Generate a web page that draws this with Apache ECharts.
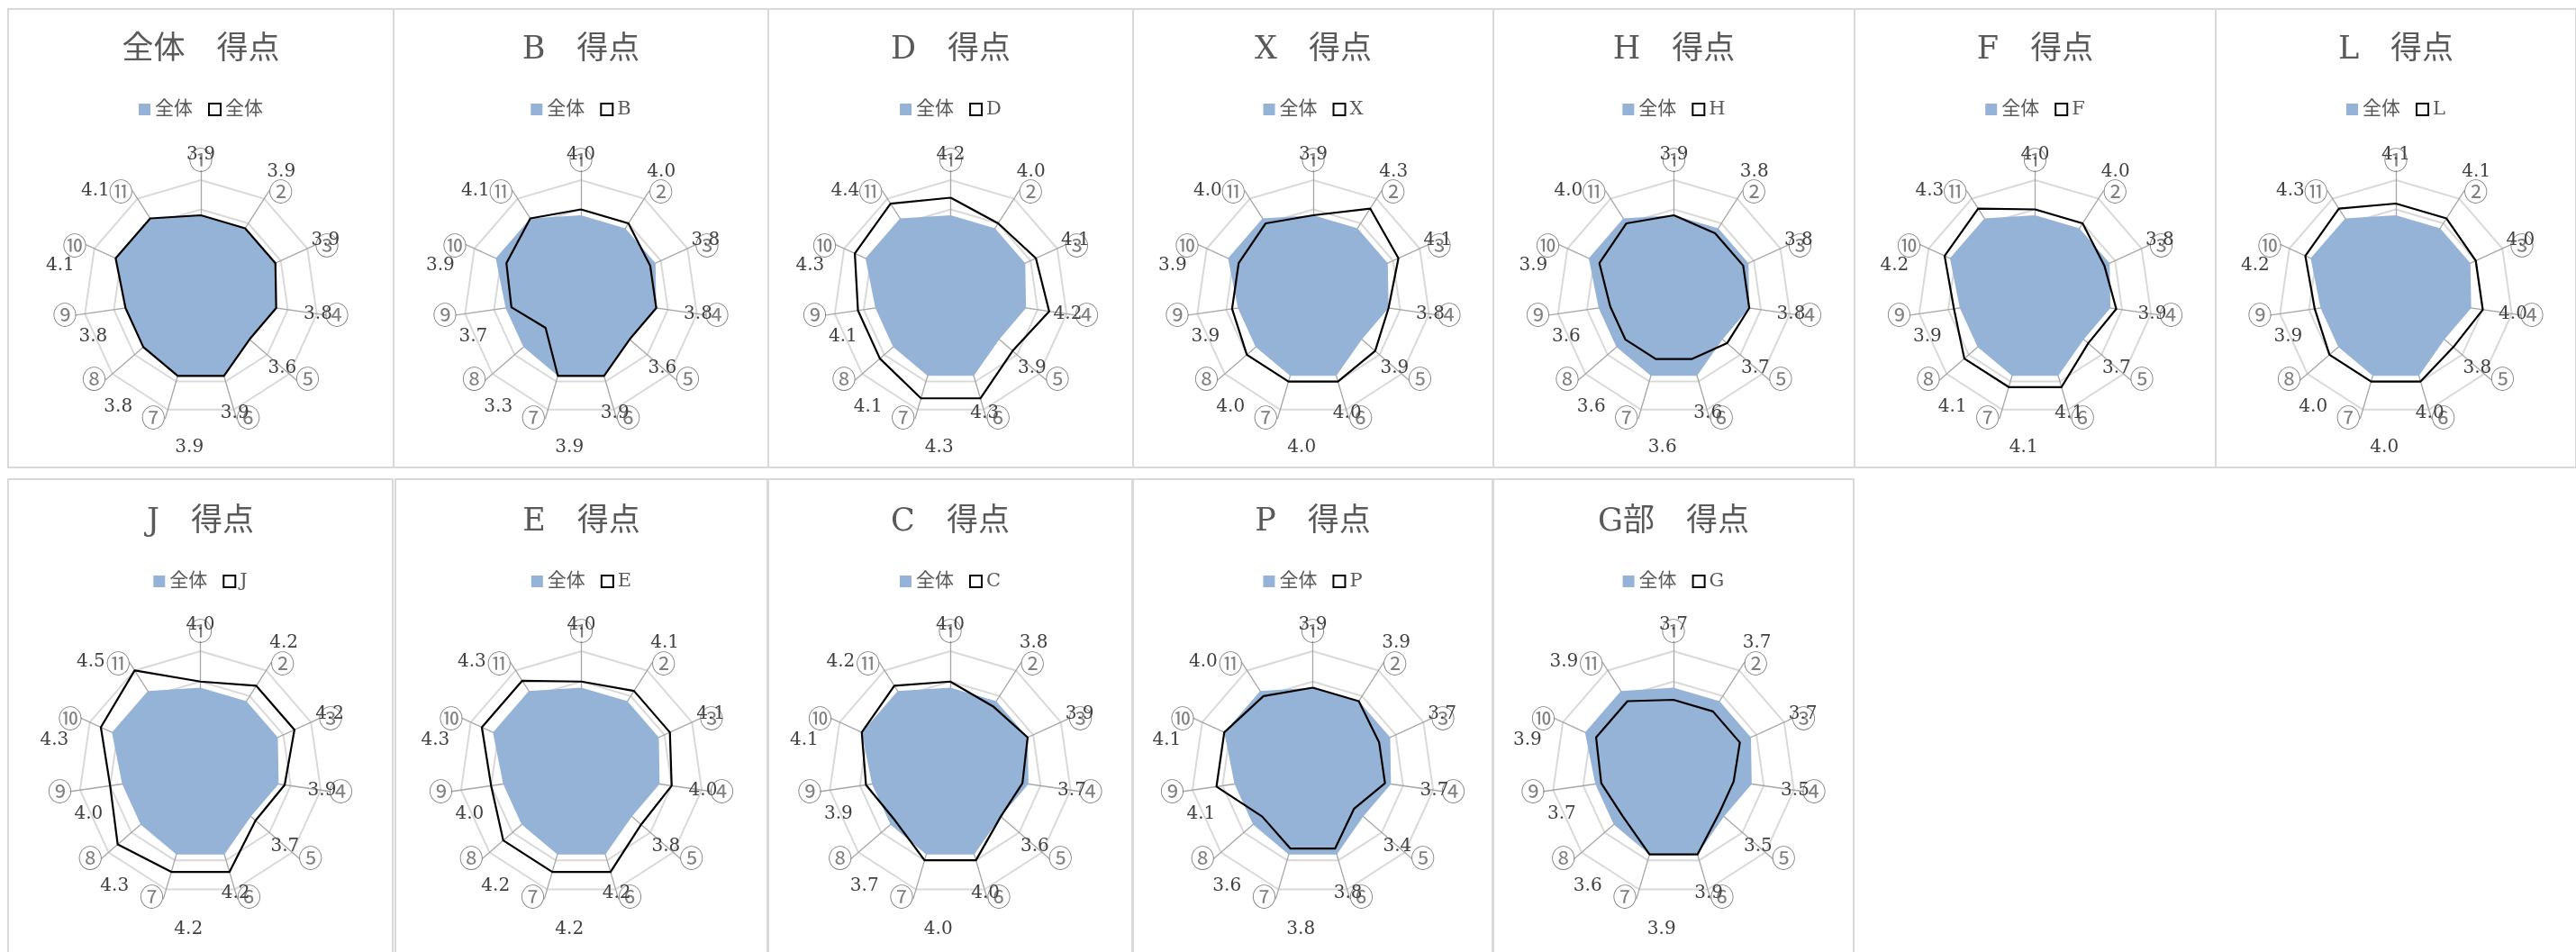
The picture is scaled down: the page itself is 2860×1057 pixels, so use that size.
<!DOCTYPE html>
<html>
<head>
<meta charset="utf-8">
<title>得点 レーダー</title>
<script src="https://cdn.jsdelivr.net/npm/echarts@6/dist/echarts.min.js"></script>
<style>
  html, body { margin: 0; padding: 0; background: #fff; }
  body { width: 2860px; height: 1057px; position: relative; overflow: hidden; }
  .panel { position: absolute; box-sizing: border-box; border: 2px solid #d9d9d9; background: #fff; }
  .chart { position: absolute; left: -2px; top: -2px; }
</style>
</head>
<body>
<script>
// axis names, clockwise from the top
const AXES = ['①', '②', '③', '④', '⑤', '⑥', '⑦', '⑧', '⑨', '⑩', '⑪'];

// scores per axis (① .. ⑪)
const ALL = [3.9, 3.9, 3.9, 3.8, 3.6, 3.9, 3.9, 3.8, 3.8, 4.1, 4.1];
const B   = [4.0, 4.0, 3.8, 3.8, 3.6, 3.9, 3.9, 3.3, 3.7, 3.9, 4.1];
const D   = [4.2, 4.0, 4.1, 4.2, 3.9, 4.3, 4.3, 4.1, 4.1, 4.3, 4.4];
const X   = [3.9, 4.3, 4.1, 3.8, 3.9, 4.0, 4.0, 4.0, 3.9, 3.9, 4.0];
const H   = [3.9, 3.8, 3.8, 3.8, 3.7, 3.6, 3.6, 3.6, 3.6, 3.9, 4.0];
const F   = [4.0, 4.0, 3.8, 3.9, 3.7, 4.1, 4.1, 4.1, 3.9, 4.2, 4.3];
const L   = [4.1, 4.1, 4.0, 4.0, 3.8, 4.0, 4.0, 4.0, 3.9, 4.2, 4.3];
const J   = [4.0, 4.2, 4.2, 3.9, 3.7, 4.2, 4.2, 4.3, 4.0, 4.3, 4.5];
const E   = [4.0, 4.1, 4.1, 4.0, 3.8, 4.2, 4.2, 4.2, 4.0, 4.3, 4.3];
const C   = [4.0, 3.8, 3.9, 3.7, 3.6, 4.0, 4.0, 3.7, 3.9, 4.1, 4.2];
const P   = [3.9, 3.9, 3.7, 3.7, 3.4, 3.8, 3.8, 3.6, 4.1, 4.1, 4.0];
const G   = [3.7, 3.7, 3.7, 3.5, 3.5, 3.9, 3.9, 3.6, 3.7, 3.9, 3.9];

const TOP_PANELS = [
  { title: '全体　得点', name: '全体', values: ALL },
  { title: 'B　得点', name: 'B', values: B },
  { title: 'D　得点', name: 'D', values: D },
  { title: 'X　得点', name: 'X', values: X },
  { title: 'H　得点', name: 'H', values: H },
  { title: 'F　得点', name: 'F', values: F },
  { title: 'L　得点', name: 'L', values: L }
];
const BOTTOM_PANELS = [
  { title: 'J　得点', name: 'J', values: J },
  { title: 'E　得点', name: 'E', values: E },
  { title: 'C　得点', name: 'C', values: C },
  { title: 'P　得点', name: 'P', values: P },
  { title: 'G部　得点', name: 'G', values: G }
];

// layout
const TOP_EDGES = [8, 436, 852, 1257, 1657, 2058, 2459, 2859];
const BOTTOM_BOXES = [[8, 437], [438, 853], [852, 1258], [1257, 1658], [1657, 2059]];

const SERIF = "'DejaVu Serif', 'Noto Sans CJK JP', serif";
const CJK = "'Noto Sans CJK JP', sans-serif";
const BLUE = '#95b3d7';

// echarts radar runs counter-clockwise, so feed the axes in reverse
const ORDER = [0, 10, 9, 8, 7, 6, 5, 4, 3, 2, 1];
// where each value label sits, as a share of the radius (like the Excel layout)
const LABEL_FRAC = [1.22, 1.27, 1.17, 1.01, 0.92, 1.03, 1.29, 1.17, 0.98, 1.23, 1.28];
const LABEL_OUTER = 1.3;

const hidden = {
  axisName: { show: false },
  axisLine: { show: false },
  axisTick: { show: false },
  axisLabel: { show: false },
  splitLine: { show: false },
  splitArea: { show: false }
};

function makeOption(p, R, cy, titleMid, legendMid) {
  const groupName = p.name === '全体' ? '全体 ' : p.name;
  const isRight = i => i <= 5;

  const labelRadar = (right, startAngle) => Object.assign({
    center: ['50%', cy],
    radius: R * LABEL_OUTER,
    startAngle: startAngle,
    shape: 'polygon',
    indicator: ORDER.map(i => isRight(i) === right
      ? { name: '', min: 0, max: p.values[i] * LABEL_OUTER / LABEL_FRAC[i] }
      : { name: '', min: 0, max: 1 })
  }, hidden);

  const labelSeries = (radarIndex, right) => ({
    type: 'radar',
    radarIndex: radarIndex,
    silent: true,
    symbol: 'circle',
    symbolSize: 1,
    itemStyle: { color: 'rgba(0,0,0,0)' },
    lineStyle: { width: 0, opacity: 0 },
    emphasis: { disabled: true },
    label: {
      show: true,
      position: 'inside',
      color: '#404040',
      fontSize: 20,
      fontFamily: SERIF,
      formatter: q => (q.value ? Number(q.value).toFixed(1) : '')
    },
    data: [{ value: ORDER.map(i => (isRight(i) === right ? p.values[i] : 0)) }]
  });

  return {
    animation: false,
    title: {
      text: p.title,
      left: 'center',
      top: titleMid - 15,
      padding: 0,
      textStyle: { fontSize: 35, fontWeight: 'normal', color: '#595959', fontFamily: SERIF }
    },
    legend: {
      top: legendMid - 7,
      left: 'center',
      padding: 0,
      itemWidth: 13,
      itemHeight: 13,
      itemGap: 17,
      selectedMode: false,
      formatter: n => n.trim(),
      textStyle: { fontSize: 21, color: '#595959', fontFamily: SERIF },
      data: [
        { name: '全体', icon: 'rect', itemStyle: { color: BLUE, borderWidth: 0 } },
        { name: groupName, icon: 'rect', itemStyle: { color: '#ffffff', borderColor: '#000000', borderWidth: 2 } }
      ]
    },
    radar: [
      // leader lines
      Object.assign({
        center: ['50%', cy],
        radius: R * 1.08,
        startAngle: 90,
        shape: 'polygon',
        indicator: ORDER.map(() => ({ name: '', min: 0, max: 1 }))
      }, hidden, { axisLine: { show: true, lineStyle: { color: '#a6a6a6', width: 1.3 } } }),
      // main grid
      {
        center: ['50%', cy],
        radius: R,
        startAngle: 90,
        shape: 'polygon',
        splitNumber: 4,
        nameGap: 9,
        indicator: ORDER.map(i => ({ name: AXES[i], min: 2.5, max: 4.5 })),
        axisName: { color: '#7f7f7f', fontSize: 27, fontFamily: CJK },
        axisLine: { show: false },
        axisTick: { show: false },
        axisLabel: { show: false },
        splitArea: { show: false },
        splitLine: { lineStyle: { color: '#d9d9d9', width: 2 } }
      },
      labelRadar(true, 90),
      labelRadar(false, 102)
    ],
    series: [
      {
        type: 'radar',
        radarIndex: 1,
        silent: true,
        symbol: 'none',
        lineStyle: { color: BLUE, width: 0 },
        areaStyle: { color: BLUE, opacity: 1 },
        data: [{ name: '全体', value: ORDER.map(i => ALL[i]) }]
      },
      {
        type: 'radar',
        radarIndex: 1,
        silent: true,
        symbol: 'none',
        itemStyle: { color: '#000000' },
        lineStyle: { color: '#000000', width: 2.2 },
        data: [{ name: groupName, value: ORDER.map(i => p.values[i]) }]
      },
      labelSeries(2, true),
      labelSeries(3, false)
    ]
  };
}

function addPanel(p, left, right, top, height, R, cy, titleMid, legendMid) {
  const frame = document.createElement('div');
  frame.className = 'panel';
  frame.style.left = left + 'px';
  frame.style.top = top + 'px';
  frame.style.width = (right - left) + 'px';
  frame.style.height = height + 'px';
  const box = document.createElement('div');
  box.className = 'chart';
  box.style.width = (right - left) + 'px';
  box.style.height = height + 'px';
  frame.appendChild(box);
  document.body.appendChild(frame);
  const chart = echarts.init(box, null, { renderer: 'canvas' });
  chart.setOption(makeOption(p, R, cy, titleMid, legendMid));
}

TOP_PANELS.forEach((p, k) => {
  addPanel(p, TOP_EDGES[k], TOP_EDGES[k + 1] + 2, 9, 511, 130, 321, 44, 109);
});
BOTTOM_PANELS.forEach((p, k) => {
  addPanel(p, BOTTOM_BOXES[k][0], BOTTOM_BOXES[k][1], 531, 560, 135, 327, 46, 111);
});
</script>
</body>
</html>
